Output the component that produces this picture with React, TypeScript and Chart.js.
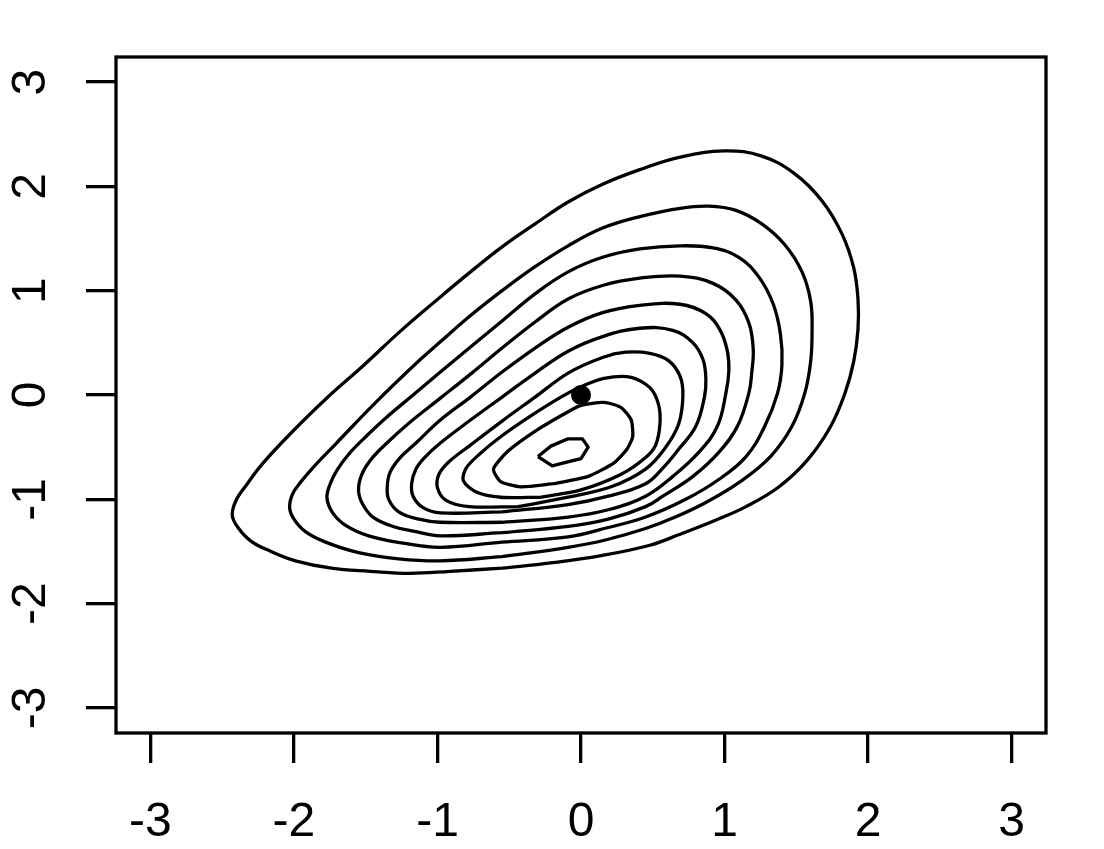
import { useEffect, useRef } from 'react';
import { Chart, registerables } from 'chart.js';

Chart.register(...registerables);

const xTickValues = [-3, -2, -1, 0, 1, 2, 3];
const yTickValues = [-3, -2, -1, 0, 1, 2, 3];
const xTickLabels = ['-3', '-2', '-1', '0', '1', '2', '3'];
const yTickLabels = ['-3', '-2', '-1', '0', '1', '2', '3'];
const axisMin = -3.24;
const axisMax = 3.24;

const modePoint: [number, number] = [0, 0];

const contour1: [number, number][] = [
  [-0.55, -1.66], [-0.91, -1.69], [-1.19, -1.71], [-1.47, -1.69], [-1.74, -1.66], [-1.99, -1.59],
  [-2.16, -1.5], [-2.3, -1.4], [-2.39, -1.27], [-2.43, -1.15], [-2.4, -1.0], [-2.33, -0.86],
  [-2.22, -0.66], [-2.01, -0.35], [-1.78, -0.04], [-1.51, 0.29], [-1.26, 0.61], [-0.98, 0.94],
  [-0.77, 1.18], [-0.55, 1.42], [-0.32, 1.64], [-0.09, 1.85], [0.15, 2.02], [0.41, 2.16],
  [0.69, 2.28], [1.0, 2.34], [1.26, 2.29], [1.49, 2.12], [1.68, 1.86], [1.82, 1.54],
  [1.9, 1.22], [1.93, 0.92], [1.93, 0.63], [1.9, 0.32], [1.84, 0.02], [1.74, -0.3],
  [1.58, -0.62], [1.38, -0.88], [1.15, -1.07], [0.92, -1.21], [0.68, -1.34], [0.48, -1.44],
  [0.14, -1.54], [-0.21, -1.61], [-0.55, -1.66],
];

const contour2: [number, number][] = [
  [-0.55, -1.55], [-0.98, -1.59], [-1.27, -1.57], [-1.55, -1.51], [-1.78, -1.41], [-1.92, -1.31],
  [-2.0, -1.19], [-2.03, -1.08], [-2.01, -0.95], [-1.95, -0.83], [-1.87, -0.7], [-1.71, -0.47],
  [-1.43, -0.07], [-1.12, 0.34], [-0.98, 0.51], [-0.78, 0.75], [-0.55, 1.0], [-0.32, 1.23],
  [-0.09, 1.43], [0.15, 1.6], [0.41, 1.71], [0.69, 1.79], [0.89, 1.81], [1.08, 1.77],
  [1.26, 1.64], [1.42, 1.44], [1.54, 1.18], [1.6, 0.9], [1.61, 0.61], [1.6, 0.32],
  [1.56, 0.02], [1.47, -0.3], [1.32, -0.59], [1.11, -0.83], [0.87, -1.03], [0.64, -1.18],
  [0.45, -1.28], [0.17, -1.39], [-0.09, -1.46], [-0.55, -1.55],
];

const contour3: [number, number][] = [
  [-0.55, -1.41], [-0.98, -1.46], [-1.24, -1.42], [-1.48, -1.35], [-1.64, -1.25], [-1.73, -1.13],
  [-1.77, -0.99], [-1.75, -0.86], [-1.7, -0.72], [-1.62, -0.57], [-1.5, -0.4], [-1.36, -0.22],
  [-1.17, 0.0], [-0.98, 0.22], [-0.77, 0.46], [-0.55, 0.71], [-0.32, 0.97], [-0.09, 1.18],
  [0.15, 1.32], [0.41, 1.4], [0.69, 1.43], [0.92, 1.41], [1.1, 1.32], [1.24, 1.13],
  [1.34, 0.87], [1.39, 0.58], [1.4, 0.29], [1.37, 0.02], [1.28, -0.3], [1.15, -0.59],
  [0.96, -0.81], [0.73, -1.0], [0.45, -1.17], [0.19, -1.27], [-0.09, -1.36], [-0.55, -1.41],
];

const contour4: [number, number][] = [
  [-0.55, -1.32], [-0.98, -1.35], [-1.15, -1.31], [-1.31, -1.26], [-1.45, -1.17], [-1.52, -1.05],
  [-1.55, -0.92], [-1.53, -0.77], [-1.47, -0.63], [-1.36, -0.47], [-1.2, -0.27], [-0.98, -0.03],
  [-0.77, 0.2], [-0.55, 0.45], [-0.32, 0.7], [-0.09, 0.92], [0.15, 1.05], [0.41, 1.12],
  [0.69, 1.14], [0.92, 1.07], [1.08, 0.91], [1.17, 0.69], [1.2, 0.44], [1.19, 0.22],
  [1.17, 0.02], [1.09, -0.3], [0.96, -0.55], [0.78, -0.78], [0.57, -0.97], [0.45, -1.07],
  [0.19, -1.19], [-0.09, -1.26], [-0.55, -1.32],
];

const contour5: [number, number][] = [
  [-0.55, -1.22], [-0.98, -1.22], [-1.13, -1.19], [-1.27, -1.12], [-1.34, -1.0], [-1.35, -0.88],
  [-1.33, -0.74], [-1.26, -0.6], [-1.15, -0.46], [-0.98, -0.24], [-0.77, -0.02], [-0.55, 0.22],
  [-0.32, 0.45], [-0.09, 0.65], [0.15, 0.79], [0.41, 0.86], [0.69, 0.87], [0.87, 0.78],
  [0.97, 0.62], [1.02, 0.42], [1.03, 0.23], [1.01, 0.02], [0.95, -0.3], [0.82, -0.55],
  [0.64, -0.78], [0.45, -0.97], [0.19, -1.1], [-0.09, -1.17], [-0.55, -1.22],
];

const contour6: [number, number][] = [
  [-0.55, -1.12], [-0.98, -1.13], [-1.1, -1.08], [-1.17, -0.97], [-1.18, -0.85], [-1.15, -0.71],
  [-1.09, -0.6], [-0.98, -0.46], [-0.77, -0.24], [-0.55, -0.02], [-0.32, 0.21], [-0.09, 0.42],
  [0.15, 0.56], [0.41, 0.64], [0.64, 0.62], [0.78, 0.5], [0.85, 0.34], [0.87, 0.15],
  [0.86, -0.02], [0.8, -0.3], [0.68, -0.52], [0.57, -0.7], [0.45, -0.85], [0.19, -0.97],
  [-0.09, -1.05], [-0.55, -1.12],
];

const contour7: [number, number][] = [
  [-0.44, -1.07], [-0.78, -1.07], [-0.94, -1.01], [-1.0, -0.89], [-0.99, -0.76], [-0.92, -0.64],
  [-0.77, -0.48], [-0.55, -0.25], [-0.32, -0.02], [-0.09, 0.21], [0.15, 0.36], [0.31, 0.41],
  [0.48, 0.4], [0.61, 0.33], [0.69, 0.18], [0.71, -0.01], [0.68, -0.28], [0.58, -0.52],
  [0.45, -0.71], [0.21, -0.88], [-0.09, -0.98], [-0.44, -1.07],
];

const contour8: [number, number][] = [
  [-0.28, -0.98], [-0.56, -0.98], [-0.73, -0.93], [-0.82, -0.82], [-0.8, -0.7], [-0.71, -0.57],
  [-0.56, -0.4], [-0.35, -0.2], [-0.14, -0.02], [0.0, 0.08], [0.16, 0.16], [0.35, 0.17],
  [0.48, 0.07], [0.54, -0.09], [0.55, -0.28], [0.52, -0.48], [0.45, -0.6], [0.28, -0.76],
  [0.0, -0.91], [-0.28, -0.98],
];

const contour9: [number, number][] = [
  [-0.19, -0.85], [-0.42, -0.88], [-0.56, -0.83], [-0.61, -0.71], [-0.51, -0.54], [-0.3, -0.33],
  [-0.09, -0.16], [0.0, -0.1], [0.16, -0.07], [0.28, -0.12], [0.35, -0.24], [0.36, -0.4],
  [0.32, -0.52], [0.23, -0.65], [0.05, -0.78], [-0.19, -0.85],
];

const contour10: [number, number][] = [
  [-0.3, -0.59], [-0.21, -0.49], [-0.09, -0.42], [0.01, -0.42], [0.05, -0.5], [0.0, -0.61],
  [-0.12, -0.65], [-0.2, -0.68], [-0.3, -0.59],
];

const contours = [contour1, contour2, contour3, contour4, contour5, contour6, contour7, contour8, contour9, contour10];
const tensions = [0.4, 0.4, 0.4, 0.4, 0.4, 0.4, 0.35, 0.3, 0.2, 0];

const FONT = '"Liberation Sans", Arial, Helvetica, sans-serif';
const LINE_W = 3.3;

const framePlugin = {
  id: 'rframe',
  afterDraw(chart: any) {
    const { ctx, chartArea: a, scales } = chart;
    ctx.save();
    ctx.strokeStyle = '#000';
    ctx.lineWidth = LINE_W;
    ctx.strokeRect(a.left, a.top, a.right - a.left, a.bottom - a.top);
    ctx.fillStyle = '#000';
    ctx.font = `48px ${FONT}`;
    ctx.textAlign = 'center';
    ctx.textBaseline = 'middle';
    yTickValues.forEach((v, i) => {
      const py = scales.y.getPixelForValue(v);
      ctx.save();
      ctx.translate(32, py);
      ctx.rotate(-Math.PI / 2);
      ctx.fillText(yTickLabels[i], 0, 0);
      ctx.restore();
    });
    ctx.restore();
  },
};

export default function App() {
  const ref = useRef<HTMLCanvasElement | null>(null);

  useEffect(() => {
    if (!ref.current) return;
    const datasets: any[] = [
      {
        label: 'mode',
        data: [{ x: modePoint[0], y: modePoint[1] }],
        showLine: false,
        pointRadius: 10,
        pointBackgroundColor: '#000',
        pointBorderWidth: 0,
        order: 0,
      },
      ...contours.map((c, i) => ({
        label: `level ${i + 1}`,
        data: c.map(([x, y]) => ({ x, y })),
        showLine: true,
        borderColor: '#000',
        borderWidth: LINE_W,
        borderJoinStyle: 'round',
        pointRadius: 0,
        tension: tensions[i],
        fill: false,
        order: 1,
      })),
    ];

    const gridOpts = {
      drawOnChartArea: false,
      drawTicks: true,
      tickLength: 30,
      tickColor: '#000',
      tickWidth: LINE_W,
      color: '#000',
      lineWidth: LINE_W,
    };

    const chart = new Chart(ref.current, {
      type: 'scatter',
      data: { datasets },
      options: {
        responsive: false,
        animation: false,
        devicePixelRatio: 1,
        layout: { padding: { top: 57, right: 58, left: 0, bottom: 0 } },
        plugins: { legend: { display: false }, tooltip: { enabled: false } },
        scales: {
          x: {
            type: 'linear',
            min: axisMin,
            max: axisMax,
            afterBuildTicks: (s: any) => {
              s.ticks = xTickValues.map((v) => ({ value: v }));
            },
            afterFit: (s: any) => {
              s.height = 116;
            },
            ticks: {
              autoSkip: false,
              maxRotation: 0,
              minRotation: 0,
              padding: 31,
              color: '#000',
              font: { family: FONT, size: 48 },
              callback: (v: any) => xTickLabels[xTickValues.indexOf(Number(v))] ?? String(v),
            },
            grid: gridOpts,
            border: { display: false },
          },
          y: {
            type: 'linear',
            min: axisMin,
            max: axisMax,
            afterBuildTicks: (s: any) => {
              s.ticks = yTickValues.map((v) => ({ value: v }));
            },
            afterFit: (s: any) => {
              s.width = 116;
            },
            ticks: { display: false },
            grid: gridOpts,
            border: { display: false },
          },
        },
      },
      plugins: [framePlugin],
    });
    return () => chart.destroy();
  }, []);

  return (
    <div style={{ position: 'absolute', left: 0, top: 0, width: 1104, height: 849, background: '#fff' }}>
      <canvas ref={ref} width={1104} height={849} style={{ width: 1104, height: 849, display: 'block' }} />
    </div>
  );
}
